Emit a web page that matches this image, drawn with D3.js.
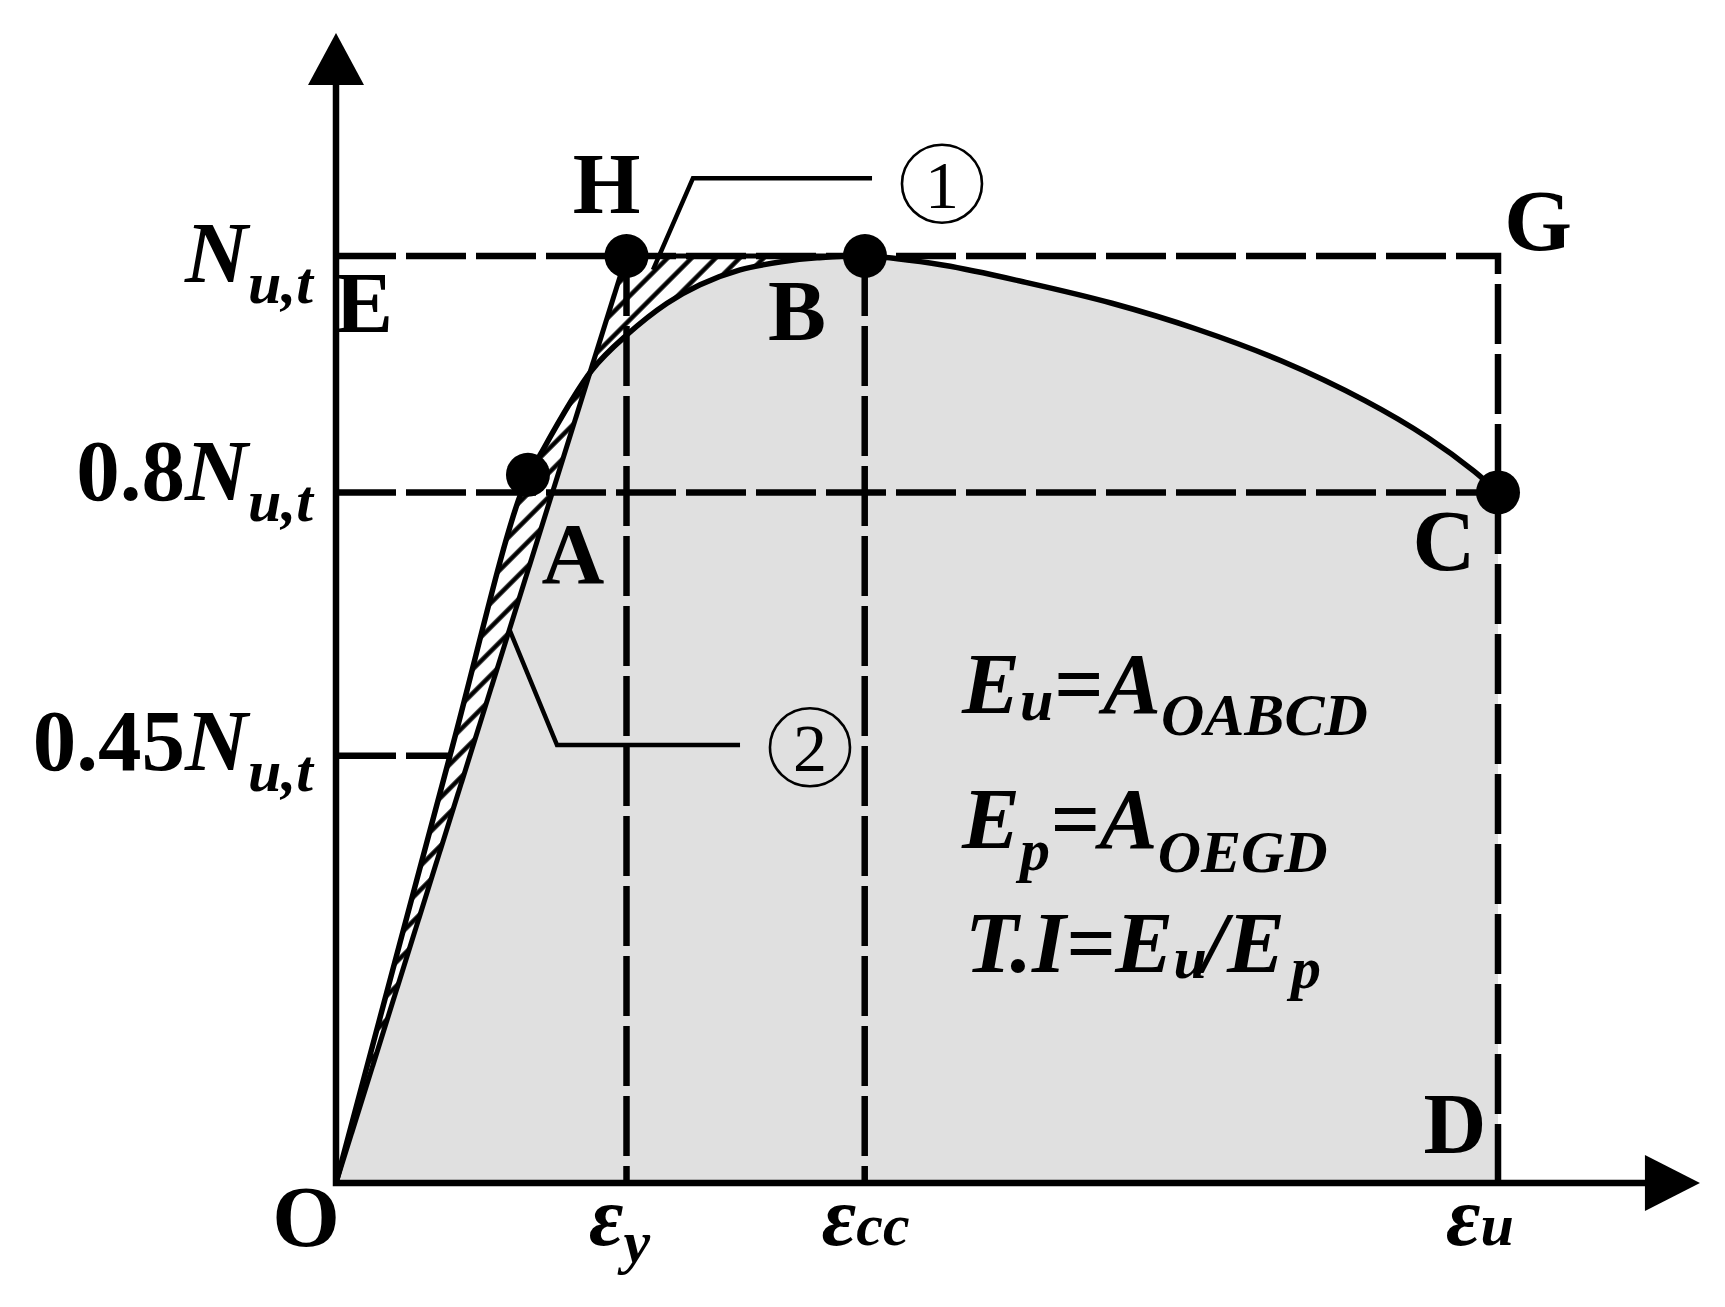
<!DOCTYPE html>
<html lang="en">
<head>
	<meta charset="UTF-8">
	<title>Toughness index</title>
	<script src="https://cdn.jsdelivr.net/npm/d3@7"></script>
	<style>
		body { margin: 0; background: #fff; }
		text { font-family: "Liberation Serif", "Times New Roman", serif; font-weight: bold; fill: #000; }
	</style>
</head>
<body>
	<div id="vis"></div>

	<script>
		var width = 1725;
		var height = 1307;

		// strains marked on the horizontal axis (schematic units, eps_u = 10)
		var strainSubs = ["y", "cc", "u"];
		var strainVals = [2.5, 4.55, 10];

		// load levels as drawn (Nu,t = 1)
		var levelCoef = ["", "0.8", "0.45"];
		var levelVals = [1, 0.745, 0.461];

		// load-strain curve
		var curveU = [0, 0.981, 1.592, 1.764, 2.203, 2.504, 2.849, 3.133, 3.477, 3.847, 4.139, 4.552,
			5.232, 5.955, 6.678, 7.410, 8.133, 8.855, 9.398, 9.793, 10];
		var curveV = [0, 0.461, 0.744, 0.787, 0.877, 0.915, 0.949, 0.969, 0.985, 0.994, 0.998, 1,
			0.990, 0.971, 0.949, 0.921, 0.887, 0.844, 0.804, 0.768, 0.745];
		var peakIndex = 11;

		// marked points on the curve / idealised line
		var pointNames = ["H", "A", "B", "C"];
		var pointU = [2.5, 1.652, 4.552, 10];
		var pointV = [1, 0.764, 1, 0.745];

		// corner letters
		var letterNames = ["H", "E", "B", "A", "C", "G", "D", "O"];
		var letterU = [2.5, 0, 4.552, 1.652, 10, 10, 10, 0];
		var letterV = [1, 1, 1, 0.764, 0.745, 1, 0, 0];

		// leaders to the circled marks
		var leader1U = [2.728, 3.072, 4.613];
		var leader1V = [0.985, 1.084, 1.084];
		var leader2U = [1.489, 1.902, 3.477];
		var leader2V = [0.598, 0.4725, 0.4725];
		var markText = ["1", "2"];
		var markU = [5.215, 4.079];
		var markV = [1.078, 0.470];

		// formulas: [text, small?, baseline shift]
		var formula1 = [["E", 0, 0], ["u", 1, 7], ["=", 0, 0], ["A", 0, 0], ["OABCD", 1, 22]];
		var formula2 = [["E", 0, 0], ["p", 1, 22], ["=", 0, 0], ["A", 0, 0], ["OEGD", 1, 24]];
		var formula3 = [["T.I", 0, 0], ["=", 0, 0], ["E", 0, 0], ["u", 1, 6], ["/", 0, 0], ["E", 0, 0], ["p", 1, 16]];

		// ---- layout ----
		var big = 87, small = 60;
		var x = d3.scaleLinear().domain([0, 10]).range([336, 1498]);
		var y = d3.scaleLinear().domain([0, 1]).range([1183, 256]);
		var xEnd = 11.738, yEnd = 1.2406;
		var letterDx = [-20, 28, -68, 45, -54, 40, -43, -30];
		var letterDy = [-43, 76, 84, 108, 78, -6, -30, 63];
		var levelShift = [26, 8, 14];

		var svg = d3.select("#vis").append("svg")
			.attr("width", width)
			.attr("height", height);

		// hatch pattern
		var pat = svg.append("defs").append("pattern")
			.attr("id", "hatch")
			.attr("patternUnits", "userSpaceOnUse")
			.attr("width", 17).attr("height", 17)
			.attr("patternTransform", "rotate(45)");
		pat.append("rect").attr("width", 17).attr("height", 17).attr("fill", "#fff");
		pat.append("line").attr("x1", 8.5).attr("x2", 8.5).attr("y1", 0).attr("y2", 17)
			.attr("stroke", "#000").attr("stroke-width", 4.5);

		var curve = curveU.map(function(u, i) { return [u, curveV[i]]; });
		var line = d3.line()
			.x(function(d) { return x(d[0]); })
			.y(function(d) { return y(d[1]); })
			.curve(d3.curveCatmullRom.alpha(0.5));
		var poly = d3.line()
			.x(function(d) { return x(d[0]); })
			.y(function(d) { return y(d[1]); });

		// grey area under the curve
		svg.append("path")
			.attr("d", line(curve) + "L" + x(10) + "," + y(0) + "Z")
			.attr("fill", "#e0e0e0");

		// hatched areas between the curve and line O-H
		svg.append("path")
			.attr("d", line(curve.slice(0, peakIndex + 1)) + "L" + x(strainVals[0]) + "," + y(1) + "Z")
			.attr("fill", "url(#hatch)");

		// dashed guide lines
		var dashed = [
			[[0, levelVals[0]], [10, levelVals[0]], [10, 0]],
			[[0, levelVals[1]], [10, levelVals[1]]],
			[[0, levelVals[2]], [curveU[1], levelVals[2]]],
			[[strainVals[0], 1], [strainVals[0], 0]],
			[[strainVals[1], 1], [strainVals[1], 0]]
		];
		svg.selectAll(".dash").data(dashed).enter().append("path")
			.attr("class", "dash")
			.attr("d", poly)
			.attr("fill", "none")
			.attr("stroke", "#000")
			.attr("stroke-width", 6.5)
			.attr("stroke-dasharray", "60,10");

		// top edge of hatch, line O-H
		svg.append("path")
			.attr("d", poly([[strainVals[0], 1], [curveU[peakIndex], 1]]))
			.attr("stroke", "#000").attr("stroke-width", 5);
		svg.append("path")
			.attr("d", poly([[0, 0], [strainVals[0], 1]]))
			.attr("stroke", "#000").attr("stroke-width", 5);

		// curve
		svg.append("path")
			.attr("d", line(curve))
			.attr("fill", "none")
			.attr("stroke", "#000")
			.attr("stroke-width", 5.5);

		// axes with arrow heads
		svg.append("path")
			.attr("d", poly([[0, yEnd - 0.03], [0, 0], [xEnd - 0.3, 0]]))
			.attr("fill", "none").attr("stroke", "#000").attr("stroke-width", 6.5);
		svg.append("path")
			.attr("d", "M" + x(0) + "," + y(yEnd) + "l28,52h-56Z");
		svg.append("path")
			.attr("d", "M" + x(xEnd) + "," + y(0) + "l-55,-28v56Z");

		// leaders
		[[leader1U, leader1V], [leader2U, leader2V]].forEach(function(l) {
			svg.append("path")
				.attr("d", poly(l[0].map(function(u, i) { return [u, l[1][i]]; })))
				.attr("fill", "none").attr("stroke", "#000").attr("stroke-width", 4.5);
		});

		// circled marks
		markText.forEach(function(t, i) {
			svg.append("ellipse")
				.attr("cx", x(markU[i])).attr("cy", y(markV[i]))
				.attr("rx", 40).attr("ry", 39)
				.attr("fill", "none").attr("stroke", "#000").attr("stroke-width", 2.6);
			svg.append("text")
				.attr("x", x(markU[i])).attr("y", y(markV[i]) + 24)
				.attr("text-anchor", "middle")
				.style("font-weight", "normal")
				.style("font-size", "68px")
				.text(t);
		});

		// dots
		svg.selectAll(".pt").data(pointNames).enter().append("circle")
			.attr("class", "pt")
			.attr("cx", function(d, i) { return x(pointU[i]); })
			.attr("cy", function(d, i) { return y(pointV[i]); })
			.attr("r", 22)
			.attr("fill", "#000");

		// letters
		svg.selectAll(".letter").data(letterNames).enter().append("text")
			.attr("class", "letter")
			.attr("x", function(d, i) { return x(letterU[i]) + letterDx[i]; })
			.attr("y", function(d, i) { return y(letterV[i]) + letterDy[i]; })
			.attr("text-anchor", "middle")
			.style("font-size", big + "px")
			.text(function(d) { return d; });

		// load level labels
		levelVals.forEach(function(v, i) {
			var t = svg.append("text")
				.attr("x", 313).attr("y", y(v) + levelShift[i])
				.attr("text-anchor", "end")
				.style("font-size", big + "px");
			if (levelCoef[i]) t.append("tspan").text(levelCoef[i]);
			t.append("tspan").style("font-style", "italic").text("N");
			t.append("tspan").style("font-style", "italic").style("font-size", small + "px")
				.attr("dy", 21).text("u,t");
		});

		// strain labels
		var strainDx = [-7, 1, -18];
		var strainSubDy = [17, 0, 0];
		strainVals.forEach(function(v, i) {
			var t = svg.append("text")
				.attr("x", x(v) + strainDx[i]).attr("y", 1245)
				.attr("text-anchor", "middle")
				.style("font-style", "italic")
				.style("font-size", "84px");
			t.append("tspan").text("\u03b5");
			t.append("tspan").style("font-size", small + "px").attr("dy", strainSubDy[i]).text(strainSubs[i]);
		});

		// formulas
		var fX = 962, fY = [713, 848, 972];
		[formula1, formula2, formula3].forEach(function(f, k) {
			var t = svg.append("text")
				.attr("x", fX + (k == 2 ? 3 : 0)).attr("y", fY[k])
				.style("font-style", "italic");
			var prev = 0;
			f.forEach(function(p, j) {
				var s = t.append("tspan")
					.style("font-size", (p[1] ? small : big) + "px")
					.attr("dy", p[2] - prev)
					.text(p[0]);
				if (k == 2 && p[0] == "/") s.attr("dx", -4);
				if (k == 2 && j == 6) s.attr("dx", 6);
				prev = p[2];
			});
		});
	</script>
</body>
</html>
